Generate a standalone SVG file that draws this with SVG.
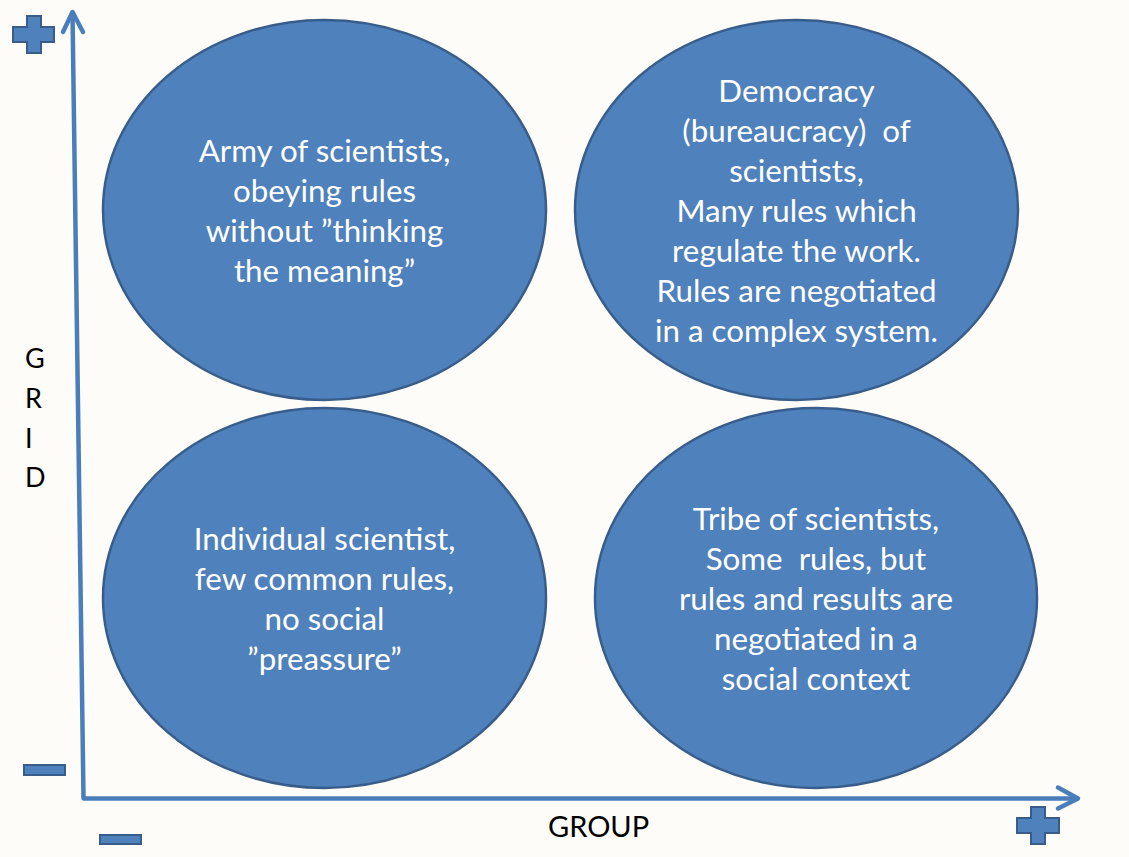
<svg xmlns="http://www.w3.org/2000/svg" width="1129" height="857" viewBox="0 0 1129 857">
<style>
.bg{fill:#fdfcf8}
.node ellipse{fill:#4f81bd;stroke:#385d8a;stroke-width:2.5}
.node text{font-family:Lato,"Open Sans","Liberation Sans",sans-serif;font-size:31.3px;fill:#ffffff;text-anchor:middle;white-space:pre}
.axis{fill:none;stroke:#4a7ebb;stroke-width:4.5;stroke-linecap:round;stroke-linejoin:round}
.sign{fill:#4f81bd;stroke:#385d8a;stroke-width:2}
.lbl{font-family:Lato,"Open Sans","Liberation Sans",sans-serif;fill:#000000}
</style>
<rect class="bg" x="0" y="0" width="1129" height="857"/>
<g id="connectors">
<line class="axis" x1="72.5" y1="13" x2="83.5" y2="798"/>
<polyline class="axis" points="63,32 72.5,12 83,32"/>
<line class="axis" x1="84" y1="798.5" x2="1077" y2="798.5"/>
<polyline class="axis" points="1058,787.5 1078,798.5 1058,808.5"/>
</g>
<g id="signs">
<path class="sign" d="M27,16 H41 V27 H54 V42 H41 V53 H27 V42 H13 V27 H27 Z"/>
<path class="sign" d="M1031,807 H1045 V818 H1059 V833 H1045 V844 H1031 V833 H1017 V818 H1031 Z"/>
<rect class="sign" x="24" y="765" width="41" height="10"/>
<rect class="sign" x="100" y="835" width="41" height="9"/>
</g>
<g id="axis-labels">
<text class="lbl" x="25" y="368" font-size="27">G</text>
<text class="lbl" x="25" y="408" font-size="27">R</text>
<text class="lbl" x="25" y="448" font-size="27">I</text>
<text class="lbl" x="25" y="487" font-size="27">D</text>
<text class="lbl" x="548" y="837" font-size="29">GROUP</text>
</g>
<g id="node-army" class="node">
<ellipse cx="324.5" cy="210" rx="221.5" ry="190"/>
<text x="324.5" y="162">Army of scientists,</text>
<text x="324.5" y="202">obeying rules</text>
<text x="324.5" y="242">without ”thinking</text>
<text x="324.5" y="282">the meaning”</text>
</g>
<g id="node-democracy" class="node">
<ellipse cx="796.5" cy="210" rx="221.5" ry="190"/>
<text x="796.5" y="102">Democracy</text>
<text x="796.5" y="142">(bureaucracy)  of</text>
<text x="796.5" y="182">scientists,</text>
<text x="796.5" y="222">Many rules which</text>
<text x="796.5" y="262">regulate the work.</text>
<text x="796.5" y="302">Rules are negotiated</text>
<text x="796.5" y="342">in a complex system.</text>
</g>
<g id="node-individual" class="node">
<ellipse cx="324.5" cy="598" rx="221.5" ry="190"/>
<text x="324.5" y="550">Individual scientist,</text>
<text x="324.5" y="590">few common rules,</text>
<text x="324.5" y="630">no social</text>
<text x="324.5" y="670">”preassure”</text>
</g>
<g id="node-tribe" class="node">
<ellipse cx="816" cy="598" rx="221" ry="190"/>
<text x="816" y="530">Tribe of scientists,</text>
<text x="816" y="570">Some  rules, but</text>
<text x="816" y="610">rules and results are</text>
<text x="816" y="650">negotiated in a</text>
<text x="816" y="690">social context</text>
</g>
</svg>
